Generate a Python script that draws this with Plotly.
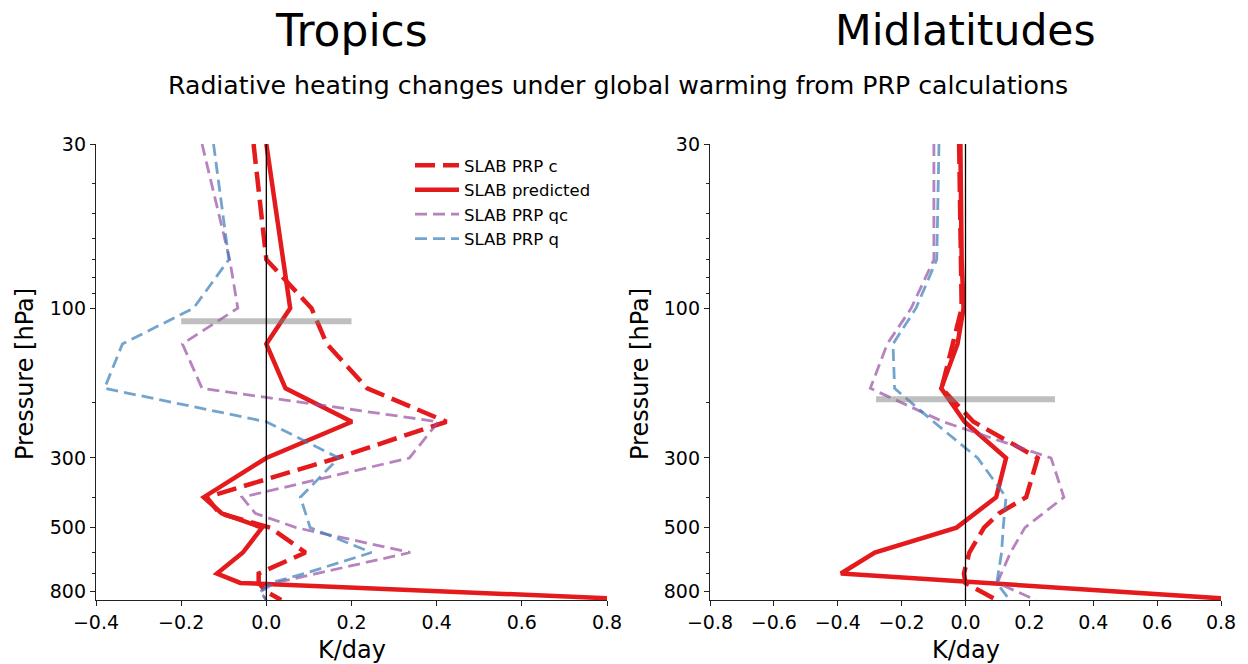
import math
import plotly.graph_objects as go

# ---------------- data ----------------
pressure = [30, 70, 100, 130, 180, 230, 300, 400, 450, 500, 600, 700, 750, 800, 850]

trop_prp_c = [-0.03, 0.0, 0.106, 0.142, 0.237, 0.423, 0.166, -0.14, -0.11, 0.009, 0.092, -0.018, -0.018, 0.0, 0.035]
trop_pred = [0.0, None, 0.056, 0.0, 0.045, 0.201, 0.0, -0.147, -0.105, -0.01, -0.055, -0.116, -0.061, None, 0.90]
trop_prp_qc = [-0.151, -0.086, -0.067, -0.197, -0.151, 0.404, 0.336, -0.057, -0.026, 0.07, 0.338, 0.115, 0.02, -0.014, 0.0]
trop_prp_q = [-0.124, -0.088, -0.171, -0.338, -0.380, 0.0, 0.170, 0.080, None, 0.103, 0.247, 0.09, 0.01, -0.014, 0.0]

mid_prp_c = [-0.02, -0.015, -0.012, -0.04, -0.075, 0.025, 0.226, 0.19, 0.105, 0.058, 0.012, -0.005, 0.0, 0.05, 0.097]
mid_pred = [-0.016, -0.012, -0.006, -0.025, -0.076, -0.003, 0.127, 0.096, None, -0.028, -0.284, -0.39, None, None, 0.88]
mid_prp_qc = [-0.099, -0.099, -0.17, -0.245, -0.298, -0.07, 0.268, 0.308, None, 0.186, 0.141, 0.112, 0.10, None, 0.22]
mid_prp_q = [-0.083, -0.09, -0.155, -0.227, -0.222, -0.10, 0.038, 0.127, None, 0.118, 0.113, None, 0.098, None, 0.138]

tropopause_p = [110, 195]          # hPa (grey bars)
tropopause_halfwidth = [0.2, 0.28]  # K/day

series_names = ["SLAB PRP c", "SLAB predicted", "SLAB PRP qc", "SLAB PRP q"]
y_tick_vals = [30, 100, 300, 500, 800]
y_minor_vals = [40, 50, 60, 70, 80, 90, 200, 400, 600, 700]
x_ranges = [[-0.4, 0.8], [-0.8, 0.8]]
panel_titles = ["Tropics", "Midlatitudes"]
suptitle = "Radiative heating changes under global warming from PRP calculations"

# ---------------- styles ----------------
FONT = "DejaVu Sans"
W, H = 1248, 664
RED = "#e41a1c"
PURPLE = "rgba(152,78,163,0.7)"
BLUE = "rgba(55,126,184,0.7)"
styles = [
    dict(color=RED, width=4.5, dash="20px,8px"),
    dict(color=RED, width=4.5, dash="solid"),
    dict(color=PURPLE, width=2.8, dash="12px,6px"),
    dict(color=BLUE, width=2.8, dash="12px,6px"),
]

fig = go.Figure()
panels = [
    ("x", "y", [trop_prp_c, trop_pred, trop_prp_qc, trop_prp_q]),
    ("x2", "y2", [mid_prp_c, mid_pred, mid_prp_qc, mid_prp_q]),
]
for pi, (xa, ya, data) in enumerate(panels):
    for si, vals in enumerate(data):
        fig.add_trace(go.Scatter(
            x=vals, y=pressure, mode="lines", name=series_names[si],
            line=styles[si], connectgaps=True, xaxis=xa, yaxis=ya,
            showlegend=(pi == 0), legendgroup=f"g{si}",
            hoverinfo="skip",
        ))
    # tropopause grey bar
    hw = tropopause_halfwidth[pi]
    fig.add_trace(go.Scatter(
        x=[-hw, hw], y=[tropopause_p[pi]] * 2, mode="lines",
        line=dict(color="rgba(128,128,128,0.5)", width=6),
        xaxis=xa, yaxis=ya, showlegend=False, hoverinfo="skip",
    ))
    # zero line
    fig.add_trace(go.Scatter(
        x=[0, 0], y=[pressure[0] * 0.5, pressure[-1] * 1.5], mode="lines",
        line=dict(color="black", width=1.3),
        xaxis=xa, yaxis=ya, showlegend=False, hoverinfo="skip",
    ))

x_domains = [[96 / W, 607 / W], [710 / W, 1221 / W]]
y_domain = [1 - 600 / H, 1 - 144 / H]

axis_common = dict(
    showline=True, linecolor="#222", linewidth=1.3, mirror=False,
    ticks="outside", ticklen=5, tickwidth=1.3, tickcolor="#222",
    showgrid=False, zeroline=False, automargin=False,
    tickfont=dict(family=FONT, size=19, color="black"),
)
for i, (xk, yk) in enumerate([("xaxis", "yaxis"), ("xaxis2", "yaxis2")]):
    fig.layout[xk] = dict(
        axis_common, domain=x_domains[i], range=x_ranges[i],
        dtick=0.2, tick0=0, tickformat=".1f",
        anchor="y" if i == 0 else "y2",
    )
    fig.layout[yk] = dict(
        axis_common, domain=y_domain, type="log",
        range=[math.log10(850), math.log10(30)],
        tickvals=y_tick_vals, ticktext=[str(v) for v in y_tick_vals],
        minor=dict(tickvals=y_minor_vals, ticklen=3, tickwidth=1.1,
                   tickcolor="#222", ticks="outside", showgrid=False),
        anchor="x" if i == 0 else "x2",
    )

ann = []
centers = [(96 + 607) / 2, (710 + 1221) / 2]
title_sizes = [44, 42.5]
for i, t in enumerate(panel_titles):
    ann.append(dict(text=t, x=centers[i] / W, y=1 - 30 / H, xref="paper", yref="paper",
                    xanchor="center", yanchor="middle", showarrow=False,
                    font=dict(family=FONT, size=title_sizes[i], color="black")))
    ann.append(dict(text="K/day", x=centers[i] / W, y=1 - 650 / H, xref="paper", yref="paper",
                    xanchor="center", yanchor="middle", showarrow=False,
                    font=dict(family=FONT, size=24, color="black")))
for xp in [25, 640]:
    ann.append(dict(text="Pressure [hPa]", x=xp / W, y=1 - 374 / H, xref="paper", yref="paper",
                    xanchor="center", yanchor="middle", showarrow=False, textangle=-90,
                    font=dict(family=FONT, size=24, color="black")))
ann.append(dict(text=suptitle, x=618 / W, y=1 - 85 / H, xref="paper", yref="paper",
                xanchor="center", yanchor="middle", showarrow=False,
                font=dict(family=FONT, size=25.2, color="black")))

fig.update_layout(
    width=W, height=H, margin=dict(l=0, r=0, t=0, b=0, autoexpand=False),
    paper_bgcolor="white", plot_bgcolor="white",
    font=dict(family=FONT, color="black"),
    annotations=ann,
    showlegend=True,
    legend=dict(x=410 / W, y=1 - 148 / H, xanchor="left", yanchor="top",
                bgcolor="rgba(0,0,0,0)", font=dict(family=FONT, size=16.5, color="black"),
                traceorder="grouped", tracegroupgap=0, itemwidth=44),
)

fig.write_html("out.html")
